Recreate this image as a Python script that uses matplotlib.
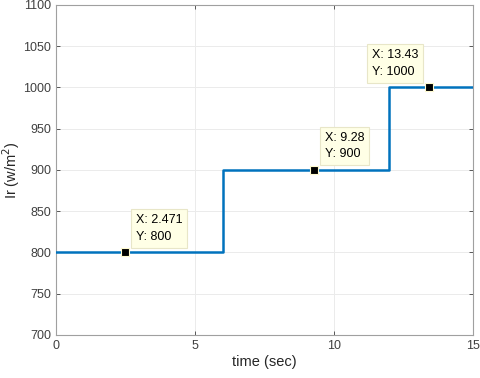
import numpy as np
import matplotlib
matplotlib.use("Agg")
import matplotlib.pyplot as plt

plt.rcParams['font.family'] = ['Liberation Sans', 'DejaVu Sans']

# step profile of irradiance
time = [0, 6, 6, 12, 12, 15]
irr = [800, 800, 900, 900, 1000, 1000]

# data tips
tip_x = [2.471, 9.28, 13.43]
tip_y = [800, 900, 1000]
tip_lbl = ["2.471", "9.28", "13.43"]

fig = plt.figure(figsize=(4.8, 3.78), dpi=100)
ax = fig.add_axes([0.1167, 0.1138, 0.8683, 0.873])

ax.plot(time, irr, color='#0072BD', lw=1.8, zorder=3)
ax.plot(tip_x, tip_y, ls='none', marker='s', ms=6, mfc='black', mec='#fffbd0',
        mew=0.8, zorder=4)

for x, y, lbl in zip(tip_x, tip_y, tip_lbl):
    right = x > 12
    ax.annotate("X: %s\nY: %d" % (lbl, y), xy=(x, y),
                xytext=(-8 if right else 8, 7), textcoords='offset points',
                ha='right' if right else 'left', va='bottom', multialignment='left',
                fontsize=9, color='black', linespacing=1.5,
                bbox=dict(boxstyle='square,pad=0.4', fc='#ffffe6', ec='#e8e6c8', lw=0.8),
                zorder=5)

ax.set_xlim(0, 15)
ax.set_ylim(700, 1100)
ax.set_xticks([0, 5, 10, 15])
ax.set_yticks(np.arange(700, 1101, 50))
ax.grid(True, color='#ebebeb', lw=0.7)
ax.set_axisbelow(True)
ax.tick_params(direction='in', top=True, right=True, labelsize=9,
               colors='#404040', length=3, width=0.6)
for s in ax.spines.values():
    s.set_color('#a0a0a0')
    s.set_linewidth(0.8)

ax.set_xlabel("time (sec)", fontsize=10.5, color='#262626', labelpad=2)
ax.set_ylabel("Ir (w/m$^2$)", fontsize=10.5, color='#262626', labelpad=1)

fig.savefig("out.png", dpi=100)
